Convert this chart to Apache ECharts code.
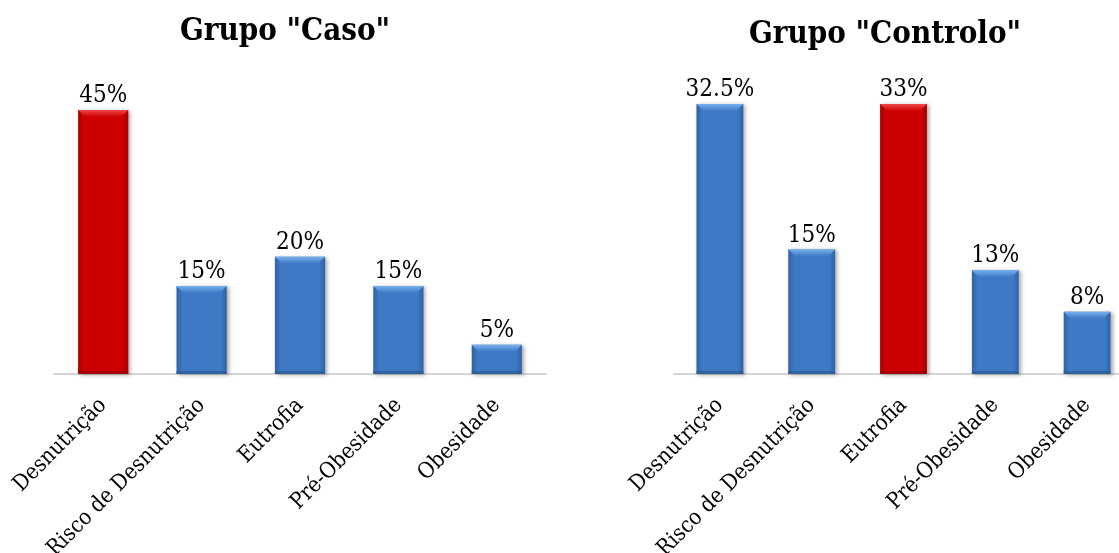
<!DOCTYPE html>
<html>
<head>
<meta charset="utf-8">
<script src="https://cdn.jsdelivr.net/npm/echarts@6/dist/echarts.min.js"></script>
<style>
  html, body { margin: 0; padding: 0; background: #fff; }
  #chart { width: 1119px; height: 553px; }
</style>
</head>
<body>
<div id="chart"></div>
<script>
// ---- Data ----
const categories = ['Desnutrição', 'Risco de Desnutrição', 'Eutrofia', 'Pré-Obesidade', 'Obesidade'];
const casoTitle = 'Grupo "Caso"';
const controloTitle = 'Grupo "Controlo"';
const casoValues = [45, 15, 20, 15, 5];
const casoLabels = ['45%', '15%', '20%', '15%', '5%'];
const controloValues = [32.5, 15, 32.5, 12.5, 7.5];
const controloLabels = ['32.5%', '15%', '33%', '13%', '8%'];

// ---- Styles ----
const FONT = '"DejaVu Serif Condensed", "DejaVu Serif", serif';
const casoHighlight = 0;
const controloHighlight = 2;
const BAR_FRAC = 0.51;

const palette = {
  blue: { body: '#3D79C4', edge: '#2F62A6', light: '#79B1EE', bottom: '#2B5890' },
  red:  { body: '#CC0000', edge: '#A80000', light: '#F04848', bottom: '#990000' }
};

function bodyGradient(p) {
  return new echarts.graphic.LinearGradient(0, 0, 1, 0, [
    { offset: 0, color: p.edge },
    { offset: 0.12, color: p.body },
    { offset: 0.88, color: p.body },
    { offset: 1, color: p.edge }
  ]);
}

function barSeries(values, labels, hi, idx) {
  return {
    type: 'bar',
    xAxisIndex: idx, yAxisIndex: idx,
    barWidth: (BAR_FRAC * 100) + '%',
    data: values.map((v, i) => ({
      value: v,
      itemStyle: { color: bodyGradient(i === hi ? palette.red : palette.blue) }
    })),
    itemStyle: {
      shadowBlur: 4, shadowColor: 'rgba(0,0,0,0.35)', shadowOffsetX: 2, shadowOffsetY: 1
    },
    label: {
      show: true, position: 'top', distance: 2,
      fontFamily: FONT, fontSize: 24, color: '#000',
      formatter: (p) => labels[p.dataIndex]
    },
    silent: true,
    animation: false,
    z: 2
  };
}

function bevelSeries(values, hi, idx) {
  return {
    type: 'custom',
    xAxisIndex: idx, yAxisIndex: idx,
    data: values.map((v, i) => [i, v]),
    encode: { x: 0, y: 1 },
    silent: true,
    animation: false,
    z: 3,
    renderItem: function (params, api) {
      const i = api.value(0);
      const v = api.value(1);
      const top = api.coord([i, v]);
      const base = api.coord([i, 0]);
      const w = api.size([1, 0])[0] * BAR_FRAC;
      const x0 = top[0] - w / 2, x1 = top[0] + w / 2;
      const y0 = top[1], y1 = base[1];
      const b = 7;
      const p = i === hi ? palette.red : palette.blue;
      return {
        type: 'group',
        children: [
          {
            type: 'polygon',
            shape: { points: [[x0, y0], [x1, y0], [x1 - b, y0 + b], [x0 + b, y0 + b]] },
            style: {
              fill: new echarts.graphic.LinearGradient(0, 0, 0, 1, [
                { offset: 0, color: p.light },
                { offset: 1, color: p.body }
              ])
            }
          },
          {
            type: 'rect',
            shape: { x: x0, y: y1 - 3, width: w, height: 3 },
            style: { fill: p.bottom, opacity: 0.7 }
          }
        ]
      };
    }
  };
}

function xAxisFor(idx) {
  return {
    type: 'category',
    gridIndex: idx,
    data: categories,
    axisLine: { show: true, lineStyle: { color: '#D6D6D6', width: 2 } },
    axisTick: { show: false },
    axisLabel: {
      interval: 0, rotate: 45, margin: 28,
      fontFamily: FONT, fontSize: 22, color: '#000'
    },
    splitLine: { show: false }
  };
}

function yAxisFor(idx, max) {
  return {
    type: 'value', gridIndex: idx, min: 0, max: max, show: false,
    splitLine: { show: false }
  };
}

const chart = echarts.init(document.getElementById('chart'), null, { renderer: 'canvas' });
chart.setOption({
  backgroundColor: '#ffffff',
  animation: false,
  title: [
    {
      text: casoTitle, left: 280, top: 11, textAlign: 'center',
      textStyle: { fontFamily: FONT, fontWeight: 'bold', fontSize: 31, color: '#000' }
    },
    {
      text: controloTitle, left: 880, top: 14, textAlign: 'center',
      textStyle: { fontFamily: FONT, fontWeight: 'bold', fontSize: 31, color: '#000' }
    }
  ],
  grid: [
    { left: 54, right: 573, top: 110, bottom: 179, containLabel: false, outerBoundsMode: 'none' },
    { left: 674, right: -14, top: 104, bottom: 179, containLabel: false, outerBoundsMode: 'none' }
  ],
  xAxis: [xAxisFor(0), xAxisFor(1)],
  yAxis: [yAxisFor(0, Math.max(...casoValues)), yAxisFor(1, Math.max(...controloValues))],
  series: [
    barSeries(casoValues, casoLabels, casoHighlight, 0),
    bevelSeries(casoValues, casoHighlight, 0),
    barSeries(controloValues, controloLabels, controloHighlight, 1),
    bevelSeries(controloValues, controloHighlight, 1)
  ]
});
</script>
</body>
</html>
